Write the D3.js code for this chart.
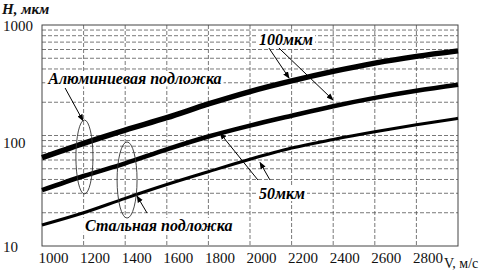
<!DOCTYPE html>
<html>
<head>
<meta charset="utf-8">
<script src="https://cdn.jsdelivr.net/npm/d3@7"></script>
<style>
  body { margin: 0; background: #fff; }
  svg { display: block; }
</style>
</head>
<body>
<div id="chart"></div>
<script>
// chart canvas
const canvWidth = 486, canvHeight = 278;
const margin = {top: 25, right: 28, bottom: 32, left: 42};
const width = canvWidth - margin.left - margin.right;
const height = canvHeight - margin.top - margin.bottom;
const serif = 'Liberation Serif';

// data
const speeds = [1000, 1200, 1400, 1600, 1800, 2000, 2200, 2400, 2600, 2800, 3000];
const alThick = [63, 85, 112, 145, 193, 250, 312, 380, 452, 520, 583];
const alThin = [32, 43, 56, 75, 98, 123, 151, 184, 219, 254, 288];
const steel = [15.5, 20, 27, 36, 47, 61, 77, 92, 108, 125, 143];

const xTicks = [1000, 1200, 1400, 1600, 1800, 2000, 2200, 2400, 2600, 2800];
const xGrid = [1200, 1400, 1600, 1800, 2000, 2200, 2400, 2600, 2800];
const yTicks = [10, 100, 1000];
const yGrid = [20, 30, 40, 50, 60, 70, 80, 90, 100, 200, 300, 400, 500, 600, 700, 800, 900];

// annotations, in data units (V, H)
const labels = [
    {text: "Алюминиевая подложка", v: 1030, h: 290},
    {text: "Стальная подложка", v: 1207, h: 13.7},
    {text: "100мкм", v: 2043, h: 655},
    {text: "50мкм", v: 2043, h: 26.6}
];
const arrows = [
    {v0: 1111, h0: 269, v1: 1197, h1: 136},
    {v0: 1505, h0: 19.9, v1: 1457, h1: 28.3},
    {v0: 2091, h0: 619, v1: 2188, h1: 331},
    {v0: 2139, h0: 619, v1: 2399, h1: 210},
    {v0: 2038, h0: 39.6, v1: 1856, h1: 105},
    {v0: 2096, h0: 39.6, v1: 2048, h1: 57}
];
const ellipses = [
    {v0: 1163, v1: 1245, h0: 29.6, h1: 138},
    {v0: 1361, v1: 1457, h0: 17.9, h1: 87.4}
];

const svg = d3.select('#chart')
    .append('svg')
    .attr('width', canvWidth)
    .attr('height', canvHeight)
    .attr('font-family', serif);

const g = svg.append('g')
    .attr('transform', `translate(${margin.left},${margin.top})`);

const xScale = d3.scaleLinear().domain([1000, 3000]).range([0, width]);
const yScale = d3.scaleLog().domain([10, 1000]).range([height, 0]);

// dashed grid
g.append('g')
    .selectAll('line')
    .data(yGrid)
    .enter()
    .append('line')
    .attr('x1', 0).attr('x2', width)
    .attr('y1', d => yScale(d)).attr('y2', d => yScale(d))
    .attr('stroke', '#555')
    .attr('stroke-width', 0.8)
    .attr('stroke-dasharray', '4,2');

g.append('g')
    .selectAll('line')
    .data(xGrid)
    .enter()
    .append('line')
    .attr('x1', d => xScale(d)).attr('x2', d => xScale(d))
    .attr('y1', 0).attr('y2', height)
    .attr('stroke', '#555')
    .attr('stroke-width', 0.8)
    .attr('stroke-dasharray', '4,2');

// frame
g.append('rect')
    .attr('width', width)
    .attr('height', height)
    .attr('fill', 'none')
    .attr('stroke', '#444')
    .attr('stroke-width', 1);

// x axis labels
const xAxis = g.append('g')
    .attr('transform', `translate(0,${height})`)
    .call(d3.axisBottom(xScale).tickValues(xTicks).tickSize(0).tickPadding(5).tickFormat(d3.format('d')));
xAxis.attr('font-family', serif).attr('font-size', 15);
xAxis.select('.domain').remove();
xAxis.selectAll('text')
    .attr('text-anchor', 'start')
    .attr('x', -4)
    .attr('dy', '0.8em')
    .attr('fill', '#111');

svg.append('text')
    .attr('x', 444)
    .attr('y', 268)
    .attr('fill', '#111')
    .attr('font-size', 14)
    .text('V, м/с');

// y axis labels
svg.append('g')
    .selectAll('text')
    .data(yTicks)
    .enter()
    .append('text')
    .attr('x', 3)
    .attr('y', d => margin.top + yScale(d) + (d === 100 ? 7 : 1))
    .attr('dy', '0.35em')
    .attr('fill', '#111')
    .attr('font-size', 15)
    .text(d => d);

svg.append('text')
    .attr('x', 2)
    .attr('y', 14)
    .attr('fill', '#111')
    .attr('font-size', 15)
    .attr('font-weight', 'bold')
    .attr('font-style', 'italic')
    .text('H, мкм');

// curves
const line = d3.line()
    .x((d, i) => xScale(speeds[i]))
    .y(d => yScale(d))
    .curve(d3.curveMonotoneX);

[[alThick, 5.5], [alThin, 4.5], [steel, 3]].forEach(function (s) {
    g.append('path')
        .datum(s[0])
        .attr('fill', 'none')
        .attr('stroke', '#000')
        .attr('stroke-width', s[1])
        .attr('d', line);
});

// annotation texts with white background
labels.forEach(function (d) {
    const t = g.append('text')
        .attr('x', xScale(d.v))
        .attr('y', yScale(d.h))
        .attr('fill', '#000')
        .attr('font-size', 16)
        .attr('font-weight', 'bold')
        .attr('font-style', 'italic')
        .text(d.text);
    const bb = t.node().getBBox();
    g.insert('rect', () => t.node())
        .attr('x', bb.x - 2)
        .attr('y', bb.y + 1)
        .attr('width', bb.width + 4)
        .attr('height', bb.height - 2)
        .attr('fill', '#fff');
});

// arrows
svg.append('defs')
    .append('marker')
    .attr('id', 'head')
    .attr('viewBox', '0 0 10 10')
    .attr('refX', 9)
    .attr('refY', 5)
    .attr('markerWidth', 7)
    .attr('markerHeight', 7)
    .attr('markerUnits', 'userSpaceOnUse')
    .attr('orient', 'auto')
    .append('path')
    .attr('d', 'M0,1L10,5L0,9Z')
    .attr('fill', '#000');

g.append('g')
    .selectAll('line')
    .data(arrows)
    .enter()
    .append('line')
    .attr('x1', d => xScale(d.v0)).attr('y1', d => yScale(d.h0))
    .attr('x2', d => xScale(d.v1)).attr('y2', d => yScale(d.h1))
    .attr('stroke', '#000')
    .attr('stroke-width', 1)
    .attr('marker-end', 'url(#head)');

// ellipses
g.append('g')
    .selectAll('ellipse')
    .data(ellipses)
    .enter()
    .append('ellipse')
    .attr('cx', d => (xScale(d.v0) + xScale(d.v1)) / 2)
    .attr('cy', d => (yScale(d.h0) + yScale(d.h1)) / 2)
    .attr('rx', d => (xScale(d.v1) - xScale(d.v0)) / 2)
    .attr('ry', d => (yScale(d.h0) - yScale(d.h1)) / 2)
    .attr('fill', 'none')
    .attr('stroke', '#333')
    .attr('stroke-width', 0.9);
</script>
</body>
</html>
